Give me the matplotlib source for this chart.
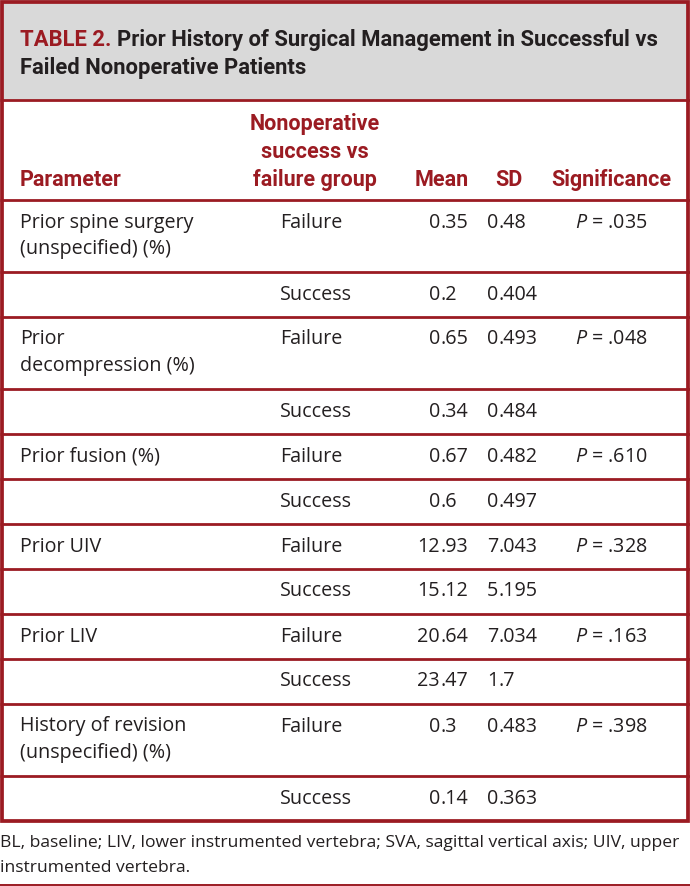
import matplotlib.pyplot as plt
from matplotlib.patches import Rectangle

plt.rcParams['mathtext.fontset'] = 'custom'
plt.rcParams['mathtext.it'] = 'Open Sans:italic'
plt.rcParams['mathtext.rm'] = 'Open Sans'

# ---- table content ----
table_label = 'TABLE 2.'
title_lines = ['Prior History of Surgical Management in Successful vs',
               'Failed Nonoperative Patients']
col_heads = ['Parameter', 'Nonoperative\nsuccess vs\nfailure group', 'Mean', 'SD', 'Significance']

params = ['Prior spine surgery\n(unspecified) (%)', '',
          'Prior\ndecompression (%)', '',
          'Prior fusion (%)', '',
          'Prior UIV', '',
          'Prior LIV', '',
          'History of revision\n(unspecified) (%)', '']
groups = ['Failure', 'Success'] * 6
means = ['0.35', '0.2', '0.65', '0.34', '0.67', '0.6',
         '12.93', '15.12', '20.64', '23.47', '0.3', '0.14']
sds = ['0.48', '0.404', '0.493', '0.484', '0.482', '0.497',
       '7.043', '5.195', '7.034', '1.7', '0.483', '0.363']
pvals = ['.035', '', '.048', '', '.610', '', '.328', '', '.163', '', '.398', '']

footnote = ['BL, baseline; LIV, lower instrumented vertebra; SVA, sagittal vertical axis; UIV, upper',
            'instrumented vertebra.']

# ---- style ----
RED = '#9B1B22'
GRAY = '#D9D9D9'
INK = '#231F20'
W, H = 690, 886
body = ['Open Sans', 'DejaVu Sans']
cond = ['Liberation Sans Narrow', 'Roboto', 'DejaVu Sans']
fs = 14.2
hfs = 15.5

fig = plt.figure(figsize=(W / 100, H / 100), dpi=100)
ax = fig.add_axes([0, 0, 1, 1])
ax.set_xlim(0, W)
ax.set_ylim(H, 0)
ax.axis('off')
renderer = fig.canvas.get_renderer()

# header band
head_bottom = 100
ax.add_patch(Rectangle((0, 0), W, head_bottom, facecolor=GRAY, edgecolor='none'))

t = ax.text(20, 40, table_label, color=RED, fontsize=15.8, fontweight='bold',
            family=cond, va='center', ha='left')
x_after = t.get_window_extent(renderer).x1 + 6
ax.text(x_after, 40, title_lines[0], color=INK, fontsize=15.8, fontweight='bold',
        family=cond, va='center', ha='left')
ax.text(20, 68, title_lines[1], color=INK, fontsize=15.8, fontweight='bold',
        family=cond, va='center', ha='left')

# column positions
x_param, x_group_c, x_group, x_mean_dec, x_sd_dec, x_sig = 20, 315, 280, 440, 498, 611

# column header row
hdr_bottom = 200
hy = 180
ax.text(x_param, hy, col_heads[0], color=RED, fontsize=hfs, fontweight='bold', family=cond,
        va='center', ha='left')
for k, ln in enumerate(col_heads[1].split('\n')[::-1]):
    ax.text(x_group_c, hy - 28 * k, ln, color=RED, fontsize=hfs, fontweight='bold', family=cond,
            va='center', ha='center')
ax.text(442, hy, col_heads[2], color=RED, fontsize=hfs, fontweight='bold', family=cond,
        va='center', ha='center')
ax.text(509, hy, col_heads[3], color=RED, fontsize=hfs, fontweight='bold', family=cond,
        va='center', ha='center')
ax.text(x_sig, hy, col_heads[4], color=RED, fontsize=hfs, fontweight='bold', family=cond,
        va='center', ha='center')

lines_y = [head_bottom, hdr_bottom]


def dec_text(x, y, s):
    if '.' in s:
        a, b = s.split('.')
        ax.text(x, y, a, color=INK, fontsize=fs, family=body, va='center', ha='right')
        ax.text(x, y, '.' + b, color=INK, fontsize=fs, family=body, va='center', ha='left')
    else:
        ax.text(x, y, s, color=INK, fontsize=fs, family=body, va='center', ha='right')


y = hdr_bottom
for p, g, m, s, pv in zip(params, groups, means, sds, pvals):
    nl = p.count('\n') + 1 if p else 1
    h = 45 + 27 * (nl - 1)
    ty = y + 22.5
    if p:
        for k, ln in enumerate(p.split('\n')):
            ax.text(x_param, ty + 26.5 * k, ln, color=INK, fontsize=fs, family=body,
                    va='center', ha='left')
    ax.text(x_group, ty, g, color=INK, fontsize=fs, family=body, va='center', ha='left')
    dec_text(x_mean_dec, ty, m)
    dec_text(x_sd_dec, ty, s)
    if pv:
        ax.text(x_sig, ty, r'$\mathit{P}$ = ' + pv, color=INK, fontsize=fs, family=body,
                va='center', ha='center')
    y += h
    lines_y.append(y)

table_bottom = lines_y[-1]

# horizontal rules
for ly in lines_y[:-1]:
    ax.plot([0, W], [ly, ly], color=RED, lw=2.0, solid_capstyle='butt')

# outer frame
ax.add_patch(Rectangle((1.8, 1.8), W - 3.6, table_bottom - 1.8, facecolor='none',
                       edgecolor=RED, lw=2.7))

# footnote
ax.text(0, 843, footnote[0], color=INK, fontsize=12.6, family=body, va='center', ha='left')
ax.text(0, 868, footnote[1], color=INK, fontsize=12.6, family=body, va='center', ha='left')
ax.plot([0, W], [884.5, 884.5], color=RED, lw=1.4)

fig.savefig('out.png', dpi=100)
